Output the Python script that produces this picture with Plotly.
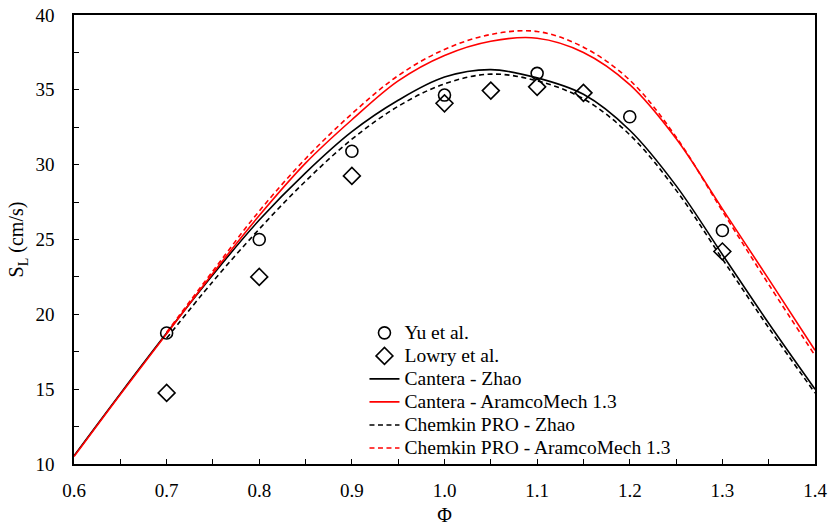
import plotly.graph_objects as go

# Equivalence ratio grids for the simulated curves
phi_cantera = [0.60, 0.65, 0.70, 0.75, 0.80, 0.85, 0.90, 0.95, 1.00, 1.05,
               1.10, 1.15, 1.20, 1.25, 1.30, 1.35, 1.40]
phi_chemkin = [0.70, 0.75, 0.80, 0.85, 0.90, 0.95, 1.00, 1.05,
               1.10, 1.15, 1.20, 1.25, 1.30, 1.35, 1.40]

# Laminar flame speed S_L (cm/s)
cantera_zhao = [10.55, 14.7, 18.75, 22.65, 26.3, 29.45, 32.2, 34.3, 35.85, 36.35,
                35.8, 34.7, 32.3, 28.6, 24.0, 19.4, 15.0]
cantera_aramco = [10.5, 14.65, 18.7, 22.75, 26.6, 30.1, 33.0, 35.6, 37.3, 38.25,
                  38.45, 37.5, 35.35, 31.75, 27.05, 22.35, 17.6]
chemkin_zhao = [18.4, 22.2, 25.7, 28.9, 31.7, 33.9, 35.4, 36.05,
                35.6, 34.4, 32.0, 28.3, 23.7, 19.1, 14.75]
chemkin_aramco = [18.8, 22.9, 26.9, 30.4, 33.4, 35.95, 37.7, 38.7,
                  38.9, 37.85, 35.65, 31.85, 26.9, 22.0, 17.25]

# Experimental data
yu_phi = [0.7, 0.8, 0.9, 1.0, 1.1, 1.2, 1.3]
yu_sl = [18.75, 25.0, 30.9, 34.65, 36.1, 33.2, 25.6]
lowry_phi = [0.7, 0.8, 0.9, 1.0, 1.05, 1.1, 1.15, 1.3]
lowry_sl = [14.75, 22.5, 29.25, 34.1, 34.95, 35.2, 34.8, 24.2]

FONT = "Times New Roman, Liberation Serif, DejaVu Serif, serif"
DASH = "5px,3.5px"


def legend_label(text):
    # larger glyphs than the legend's base size, which sets the row pitch
    return f'<span style="font-size:19.5px">{text}</span>'


fig = go.Figure()

fig.add_trace(go.Scatter(x=phi_cantera, y=cantera_zhao, mode="lines",
                         name=legend_label("Cantera - Zhao"), legendrank=3,
                         line=dict(color="black", width=1.6, shape="spline")))
fig.add_trace(go.Scatter(x=phi_cantera, y=cantera_aramco, mode="lines",
                         name=legend_label("Cantera - AramcoMech 1.3"), legendrank=4,
                         line=dict(color="#ff0000", width=1.6, shape="spline")))
fig.add_trace(go.Scatter(x=phi_chemkin, y=chemkin_zhao, mode="lines",
                         name=legend_label("Chemkin PRO - Zhao"), legendrank=5,
                         line=dict(color="black", width=1.6, dash=DASH, shape="spline")))
fig.add_trace(go.Scatter(x=phi_chemkin, y=chemkin_aramco, mode="lines",
                         name=legend_label("Chemkin PRO - AramcoMech 1.3"), legendrank=6,
                         line=dict(color="#ff0000", width=1.6, dash=DASH, shape="spline")))

fig.add_trace(go.Scatter(x=yu_phi, y=yu_sl, mode="markers",
                         name=legend_label("Yu et al."), legendrank=1,
                         marker=dict(symbol="circle-open", size=12, color="black",
                                     line=dict(width=1.6, color="black"))))
fig.add_trace(go.Scatter(x=lowry_phi, y=lowry_sl, mode="markers",
                         name=legend_label("Lowry et al."), legendrank=2,
                         marker=dict(symbol="diamond-open", size=13, color="black",
                                     line=dict(width=1.6, color="black"))))

axis_common = dict(showline=True, linecolor="black", linewidth=1.5, mirror=True,
                   showgrid=False, zeroline=False, ticks="inside", ticklen=5,
                   tickwidth=1.2, tickcolor="black", automargin=False,
                   tickfont=dict(family=FONT, size=19, color="black"))

fig.update_xaxes(range=[0.6, 1.4], dtick=0.1, tick0=0.6, tickformat=".1f",
                 minor=dict(dtick=0.05, ticks="inside", ticklen=5, tickwidth=1.2,
                            tickcolor="black"),
                 ticklabelstandoff=8,
                 title=dict(text="Φ", font=dict(family=FONT, size=20, color="black"),
                            standoff=8),
                 **axis_common)
fig.update_yaxes(range=[10, 40], dtick=5, tick0=10,
                 minor=dict(dtick=2.5, ticks="inside", ticklen=5, tickwidth=1.2,
                            tickcolor="black"),
                 ticklabelstandoff=14,
                 title=dict(text="S<sub>L</sub> (cm/s)",
                            font=dict(family=FONT, size=20, color="black"),
                            standoff=6),
                 **axis_common)

fig.update_layout(
    width=830, height=527,
    margin=dict(l=74, r=15, t=15, b=63, autoexpand=False),
    plot_bgcolor="white", paper_bgcolor="white",
    font=dict(family=FONT, color="black"),
    legend=dict(x=0.392, y=-0.003, xanchor="left", yanchor="bottom",
                bgcolor="rgba(0,0,0,0)", borderwidth=0,
                font=dict(family=FONT, size=15.4, color="black"),
                tracegroupgap=0),
    showlegend=True,
)

fig.write_html("out.html")
